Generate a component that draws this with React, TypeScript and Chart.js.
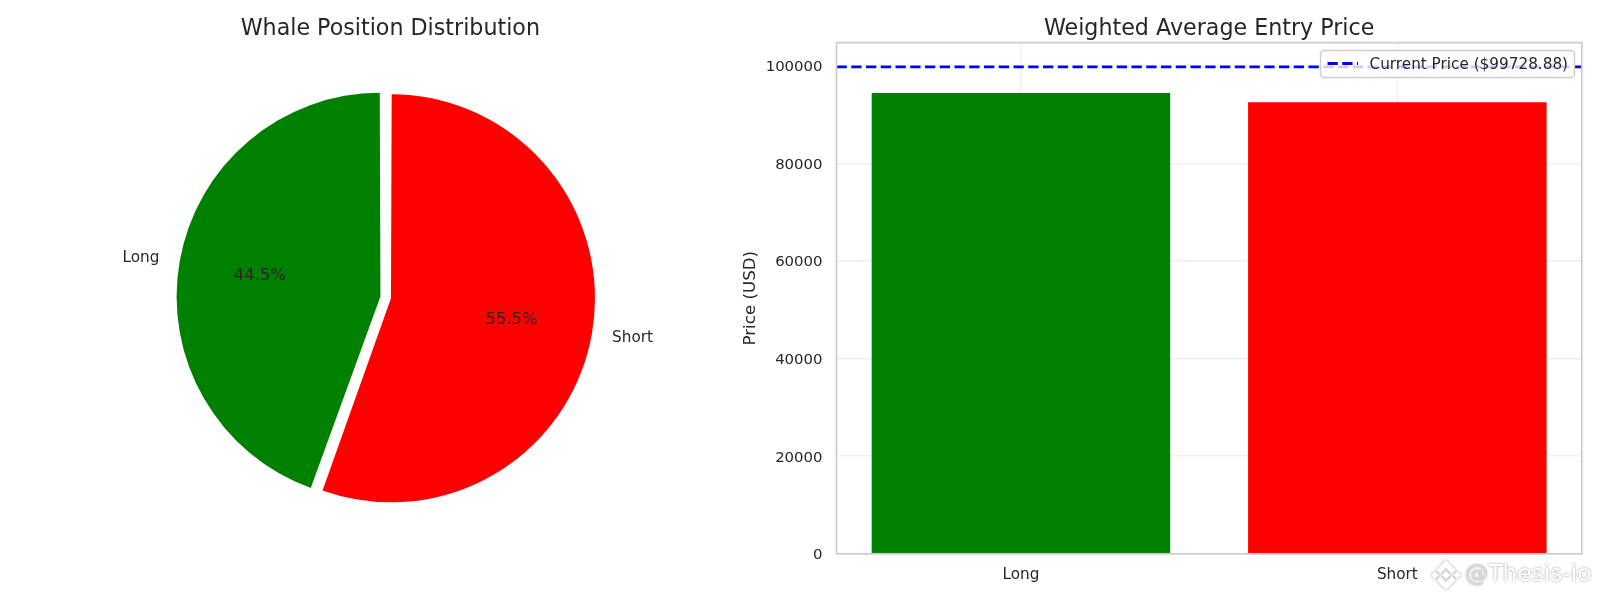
import React, { useEffect, useRef } from "react";
import { Chart, registerables } from "chart.js";

Chart.register(...registerables);

const categories = ["Long", "Short"];
const positionShares = [44.5, 55.5];
const entryPrices = [94400, 92520];
const currentPrice = 99728.88;
const priceTicks = [0, 20000, 40000, 60000, 80000, 100000];
const categoryPositions = [0, 1];
const xLimits = [-0.49, 1.49];
const yMax = 104715;
const sliceColors = ["#008000", "#ff0000"];
const chartTitles = ["Whale Position Distribution", "Weighted Average Entry Price"];
const priceAxisTitle = "Price (USD)";
const legendLabel = `Current Price ($${currentPrice.toFixed(2)})`;
const watermarkHandle = "@";
const watermarkName = "Thesis-io";

const FONT = '"DejaVu Sans"';
const INK = "#262626";
const TICK_SIZE = 15.25;

const pieLabels = {
  id: "pieLabels",
  afterDatasetsDraw(chart: any) {
    const { ctx } = chart;
    const meta = chart.getDatasetMeta(0);
    ctx.save();
    ctx.fillStyle = INK;
    ctx.textBaseline = "middle";
    meta.data.forEach((arc: any, i: number) => {
      const mid = (arc.startAngle + arc.endAngle) / 2;
      const offset = (arc.options.offset || 0) / 4;
      const r = 204;
      const cos = Math.cos(mid);
      const sin = Math.sin(mid);
      const cx = arc.x + cos * offset;
      const cy = arc.y + sin * offset;
      ctx.font = `${TICK_SIZE}px ${FONT}`;
      ctx.textAlign = cos < 0 ? "right" : "left";
      ctx.fillText(categories[i], cx + 1.1 * r * cos, cy + 1.1 * r * sin + (cos < 0 ? 0.3 : 1.3));
      ctx.font = `16.4px ${FONT}`;
      ctx.textAlign = "center";
      ctx.fillText(`${positionShares[i].toFixed(1)}%`, cx + 0.6 * r * cos, cy + 0.6 * r * sin + 0.3);
    });
    ctx.restore();
  },
};

const shiftTitle = {
  id: "shiftTitle",
  afterLayout(chart: any) {
    chart.titleBlock.left += 3.6;
    chart.titleBlock.right += 3.6;
  },
};

const nudgeYTicks = {
  id: "nudgeYTicks",
  beforeDraw(chart: any) {
    if (chart.$nudged) return;
    chart.$nudged = true;
    chart.scales.y.getLabelItems().forEach((item: any) => {
      item.options.translation[1] += 1.5;
    });
  },
};

const framePlugin = {
  id: "framePlugin",
  afterDatasetsDraw(chart: any) {
    const { ctx, chartArea: a } = chart;
    ctx.save();
    ctx.strokeStyle = "#cccccc";
    ctx.lineWidth = 1.74;
    ctx.strokeRect(a.left, a.top, a.right - a.left, a.bottom - a.top);

    // legend box
    const bx = 1320.5 - 700;
    const by = 50.5;
    const bw = 254;
    const bh = 27;
    ctx.beginPath();
    ctx.roundRect(bx, by, bw, bh, 3.5);
    ctx.fillStyle = "rgba(255,255,255,0.8)";
    ctx.fill();
    ctx.strokeStyle = "#cccccc";
    ctx.lineWidth = 1.39;
    ctx.stroke();
    ctx.beginPath();
    ctx.setLineDash([10.3, 4.45]);
    ctx.strokeStyle = "#0000ff";
    ctx.lineWidth = 2.78;
    ctx.moveTo(bx + 7, by + 13);
    ctx.lineTo(bx + 37.5, by + 13);
    ctx.stroke();
    ctx.setLineDash([]);
    ctx.fillStyle = INK;
    ctx.font = `${TICK_SIZE}px ${FONT}`;
    ctx.textAlign = "left";
    ctx.textBaseline = "middle";
    ctx.fillText(legendLabel, bx + 49, by + 14.2);

    // watermark
    const mx = 1446 - 700;
    const my = 575;
    ctx.shadowColor = "rgba(0,0,0,0.45)";
    ctx.shadowBlur = 2.5;
    ctx.fillStyle = "#ffffff";
    const shapes: number[][][] = [
      [[0, -15], [10, -5], [6, -1], [0, -7], [-6, -1], [-10, -5]],
      [[0, 15], [10, 5], [6, 1], [0, 7], [-6, 1], [-10, 5]],
      [[-11, -4], [-7, 0], [-11, 4], [-15, 0]],
      [[11, -4], [15, 0], [11, 4], [7, 0]],
      [[0, -4], [4, 0], [0, 4], [-4, 0]],
    ];
    shapes.forEach((shape) => {
      ctx.beginPath();
      shape.forEach(([dx, dy], i) => {
        if (i === 0) ctx.moveTo(mx + dx, my + dy);
        else ctx.lineTo(mx + dx, my + dy);
      });
      ctx.closePath();
      ctx.fill();
    });
    ctx.font = `23.3px ${FONT}`;
    ctx.textBaseline = "middle";
    const handleWidth = ctx.measureText(watermarkHandle).width;
    ctx.fillText(watermarkName, 1465 - 700 + handleWidth, 575);
    ctx.fillStyle = "#d9d9d9";
    ctx.fillText(watermarkHandle, 1465 - 700, 575);
    ctx.restore();
  },
};

export default function App() {
  const pieRef = useRef<HTMLCanvasElement>(null);
  const barRef = useRef<HTMLCanvasElement>(null);

  useEffect(() => {
    const pie = new Chart(pieRef.current as any, {
      type: "pie",
      data: {
        labels: categories,
        datasets: [
          {
            data: positionShares,
            backgroundColor: sliceColors,
            borderWidth: 0,
            offset: [25.4, 17.4],
            hoverOffset: 0,
          },
        ],
      },
      options: {
        animation: false,
        responsive: false,
        events: [],
        rotation: -160.2,
        radius: 199.65,
        layout: { padding: { left: 3.4, right: 0, top: 0, bottom: 47.3 } },
        plugins: {
          legend: { display: false },
          tooltip: { enabled: false },
          title: {
            display: true,
            text: chartTitles[0],
            fullSize: false,
            color: INK,
            font: { family: FONT, size: 22.2, weight: "normal" },
            padding: { top: 15.8, bottom: 0 },
          },
        },
      } as any,
      plugins: [pieLabels, shiftTitle],
    } as any);

    const bar = new Chart(barRef.current as any, {
      type: "bar",
      data: {
        datasets: [
          {
            type: "bar",
            data: categoryPositions.map((x, i) => ({ x, y: entryPrices[i] })),
            backgroundColor: sliceColors,
            borderWidth: 0,
            barPercentage: 0.793,
            categoryPercentage: 1,
          },
          {
            type: "line",
            label: legendLabel,
            data: xLimits.map((x) => ({ x, y: currentPrice })),
            borderColor: "#0000ff",
            borderWidth: 2.78,
            borderDash: [10.3, 4.45],
            pointRadius: 0,
            fill: false,
            tension: 0,
          },
        ],
      },
      options: {
        animation: false,
        responsive: false,
        events: [],
        layout: { padding: { left: 0, right: 18.2, top: 0, bottom: 0 } },
        plugins: {
          legend: { display: false },
          tooltip: { enabled: false },
          title: {
            display: true,
            text: chartTitles[1],
            fullSize: false,
            color: INK,
            font: { family: FONT, size: 22.2, weight: "normal" },
            padding: { top: 15.8, bottom: 0.2 },
          },
        },
        scales: {
          x: {
            type: "linear",
            min: xLimits[0],
            max: xLimits[1],
            offset: false,
            afterBuildTicks: (s: any) => {
              s.ticks = categoryPositions.map((value) => ({ value }));
            },
            afterFit: (s: any) => {
              s.height = 46.2;
            },
            ticks: {
              autoSkip: false,
              maxRotation: 0,
              padding: 12,
              color: INK,
              font: { family: FONT, size: TICK_SIZE },
              callback: (v: any) => categories[v],
            },
            grid: { color: "#f0f0f0", lineWidth: 1.39, drawTicks: false, offset: false },
            border: { display: false },
          },
          y: {
            min: 0,
            max: yMax,
            afterBuildTicks: (s: any) => {
              s.ticks = priceTicks.map((value) => ({ value }));
            },
            afterFit: (s: any) => {
              s.width = 136.5;
            },
            ticks: {
              padding: 14,
              color: INK,
              font: { family: FONT, size: 14.9 },
              callback: (v: any) => String(v),
            },
            grid: { color: "#f0f0f0", lineWidth: 1.39, drawTicks: false },
            border: { display: false },
            title: {
              display: true,
              text: priceAxisTitle,
              color: INK,
              font: { family: FONT, size: 16.7 },
              padding: { top: 41, bottom: 0 },
            },
          },
        },
      } as any,
      plugins: [nudgeYTicks, framePlugin],
    } as any);

    return () => {
      pie.destroy();
      bar.destroy();
    };
  }, []);

  return (
    <div style={{ position: "absolute", left: 0, top: 0, width: 1600, height: 600, background: "#fff", overflow: "hidden" }}>
      <canvas ref={pieRef} width={770} height={600} style={{ position: "absolute", left: 0, top: 0 }} />
      <canvas ref={barRef} width={900} height={600} style={{ position: "absolute", left: 700, top: 0 }} />
    </div>
  );
}
